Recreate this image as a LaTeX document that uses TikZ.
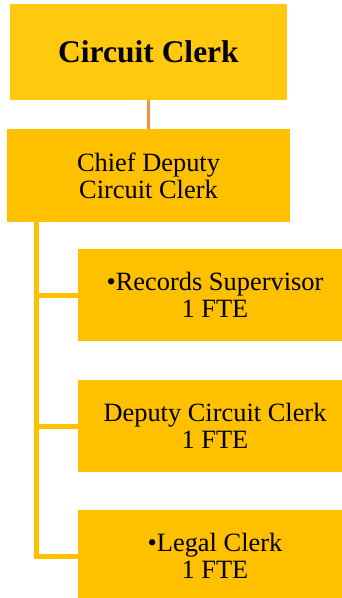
\documentclass[tikz,border=0pt]{standalone}
\usepackage{fontspec}
\setmainfont{Liberation Serif}
\definecolor{clerkgold}{HTML}{FFC90F}
\definecolor{staffgold}{HTML}{FFC000}
\definecolor{linkorange}{HTML}{F2913F}
\tikzset{post/.style={fill=staffgold, align=center, inner sep=0pt, font=\fontsize{26.4}{27}\selectfont}}
\tikzset{staffbox/.style={post, minimum width=274pt, minimum height=92pt}}

\begin{document}
\begin{tikzpicture}[x=1pt, y=1pt]
	\useasboundingbox (0,0) rectangle (342,-598);
	\clip (0,0) rectangle (342,-598);

	\node [post, fill=clerkgold, minimum width=277pt, minimum height=96pt, font=\fontsize{31.5}{33}\selectfont\bfseries] (clerk) at (148.5,-52) {Circuit Clerk};
	\node [post, minimum width=283pt, minimum height=93pt] (chief) at (148.5,-175.5) {Chief Deputy\\Circuit Clerk};
	\node [staffbox] (records) at (215,-295) {\textbullet Records Supervisor\\1 FTE};
	\node [staffbox] (deputy) at (215,-426) {Deputy Circuit Clerk\\1 FTE};
	\node [staffbox] (legal) at (215,-556) {\textbullet Legal Clerk\\1 FTE};

	\draw [linkorange, line width=2.4pt] (clerk) -- (chief);
	\coordinate (trunk) at (36,-222);
	\foreach \n in {records, deputy, legal} \draw [staffgold, line width=5pt] (trunk) |- (\n.west);
\end{tikzpicture}
\end{document}
